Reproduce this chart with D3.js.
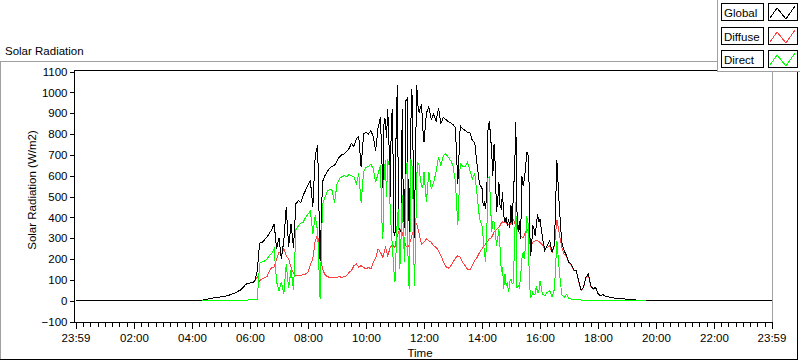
<!DOCTYPE html>
<html><head><meta charset="utf-8">
<script src="https://cdn.jsdelivr.net/npm/d3@7"></script>
<style>
html,body{margin:0;padding:0;background:#fff;overflow:hidden;}
svg{display:block;font-family:"Liberation Sans",Arial,sans-serif;}
</style></head><body>
<svg id="chart" width="800" height="361"></svg>
<script>
// ---------- data ----------
const chartTitle = "Solar Radiation";
const yAxisTitle = "Solar Radiation (W/m2)";
const xAxisTitle = "Time";
const seriesNames = ["Global", "Diffuse", "Direct"];
const seriesColors = ["#000000", "#ff4040", "#00ff00"];
const yTickValues = [-100, 0, 100, 200, 300, 400, 500, 600, 700, 800, 900, 1000, 1100];
const xTickMinutes = [-1, 120, 240, 360, 480, 600, 720, 840, 960, 1080, 1200, 1320, 1439];
const xTickLabels = ["23:59", "02:00", "04:00", "06:00", "08:00", "10:00", "12:00", "14:00", "16:00", "18:00", "20:00", "22:00", "23:59"];
// logger samples: every 5 minutes from 04:20 (260 min) to 19:40 (1180 min)
const sampleStartMin = 260;
const sampleStepMin = 5;
// Global is zero through the night
const globalNight = [[-1, 0], [255, 0], [1185, 0], [1439, 0]];

const globalW = [
  2,5,7,9,11,13,15,17,                                   // 04:20-04:55
  18,20,22,25,29,34,38,45,51,61,75,83,                   // 05
  85,87,93,144,276,280,292,304,324,341,370,250,          // 06
  300,200,290,449,260,370,255,465,480,470,505,530,       // 07
  555,575,450,700,745,190,570,600,620,635,645,650,       // 08
  670,690,700,705,715,730,755,740,775,790,640,800,       // 09
  810,800,815,790,720,830,880,540,870,920,500,920,       // 10
  310,1034,330,920,350,970,320,1018,300,1037,900,940,    // 11
  760,900,930,870,895,860,925,850,880,870,860,855,       // 12
  845,830,560,840,825,817,809,805,769,760,650,560,       // 13
  540,470,520,860,713,753,425,569,441,409,401,393,       // 14
  457,521,857,329,296,553,633,713,216,361,312,417,       // 15
  393,304,240,264,288,232,272,673,449,280,240,216,       // 16
  184,175,148,144,96,50,64,112,128,72,56,64,             // 17
  35,24,29,22,19,16,14,12,11,10,9,8,                     // 18
  7,6,5,4,3,2,1,0,0                                      // 19:00-19:40
];
const diffuseW = [
  2,5,7,9,11,13,15,17,
  18,20,22,25,29,34,38,45,51,61,75,83,
  85,87,93,117,95,105,110,115,140,160,162,200,
  235,221,250,216,200,160,131,120,120,120,125,128,
  136,173,200,288,317,216,152,125,115,112,112,112,
  112,115,112,115,120,136,144,168,176,160,168,160,
  152,160,152,184,204,248,232,208,256,216,256,272,
  256,312,345,329,280,256,272,312,345,369,321,272,
  280,296,288,280,264,256,240,216,188,165,155,165,
  184,204,216,208,184,168,152,149,168,192,208,232,
  248,264,280,296,304,329,341,353,373,377,373,364,
  369,389,361,337,312,300,329,341,264,280,287,288,
  280,268,248,256,264,232,264,388,320,256,224,210,
  182,170,146,142,94,48,62,110,124,70,55,62,
  34,24,28,22,19,16,14,12,11,10,9,8,
  7,6,5,4,3,2,1,0,0
];
const directW = [
  0,1,1,1,1,1,1,1,
  1,1,1,1,1,1,1,1,1,2,2,3,
  4,6,5,5,180,186,190,200,216,228,248,90,
  48,90,30,176,60,150,50,340,358,372,376,400,
  415,430,320,410,330,10,460,495,525,535,530,470,
  560,585,595,600,595,605,600,595,560,610,470,620,
  640,645,655,633,569,609,649,296,673,673,441,248,
  88,409,152,505,184,665,56,665,72,601,649,553,
  617,473,617,537,569,617,689,649,697,705,689,673,
  649,569,361,657,645,641,665,625,585,609,505,393,
  361,232,329,593,329,377,264,345,136,56,72,40,
  104,88,473,72,120,232,264,393,16,40,32,40,
  96,32,24,40,48,19,56,288,144,29,16,29,
  10,8,6,5,4,3,3,3,2,2,2,2,
  2,1,1,1,1,1,1,1,1,1,1,1,
  1,1,1,1,1,1,1,0,0
];
// extra (faster) samples during the gusty cloud periods, minutes since midnight
const extraTimes = [
  632.5,637.5,642.5,647.5,652.5,657.5,662.5,667.5,672.5,677.5,682.5,687.5,692.5,697.5,702.5,707.5,712.5,717.5,
  842.5,847.5,852.5,857.5,862.5,867.5,872.5,877.5,882.5,887.5,892.5,897.5,902.5,907.5,912.5,917.5,922.5,927.5,932.5,937.5,942.5,947.5,952.5,957.5
];
const extraGlobal = [
  700,873,780,761,873,330,860,360,340,400,960,480,825,700,700,937,930,830,
  457,441,825,801,600,650,480,450,520,377,361,350,361,620,420,380,600,580,710,560,248,345,360,377
];
const extraDiffuse = [
  220,230,240,235,262,262,290,330,340,300,265,262,290,330,360,345,295,276,
  256,272,288,300,316,335,347,362,378,375,368,366,380,375,350,325,305,315,336,300,270,284,288,284
];
const extraDirect = [
  400,600,500,665,330,150,250,440,300,300,600,90,681,473,250,660,580,540,
  300,184,590,480,380,330,300,250,160,130,88,90,80,290,60,60,200,200,400,150,20,30,70,40
];

// ---------- drawing ----------
const svg = d3.select("#chart");
const W = 800, H = 361;
svg.append("rect").attr("width", W).attr("height", H).attr("fill", "#fff");

const plot = {left: 74, right: 772, top: 70, bottom: 322};
const x = d3.scaleLinear().domain([-1, 1439]).range([75.5, 771.5]);
const y = d3.scaleLinear().domain([-100, 1100]).range([321.5, 71.5]);

const times = globalW.map((_, i) => sampleStartMin + i * sampleStepMin);
const merge = (vals, extra) => {
  const pts = vals.map((v, i) => [times[i], v]).concat(extra.map((v, i) => [extraTimes[i], v]));
  return pts.sort((a, b) => a[0] - b[0]);
};
const dayGlobal = merge(globalW, extraGlobal);
const globalPts = [globalNight[0], globalNight[1], ...dayGlobal, globalNight[2], globalNight[3]];
const diffusePts = merge(diffuseW, extraDiffuse);
const directPts = merge(directW, extraDirect);

// title
svg.append("text").attr("x", 5).attr("y", 55).attr("font-size", 11.5).attr("fill", "#000").text(chartTitle);

// outer frame
const frame = svg.append("g").attr("shape-rendering", "crispEdges");
frame.append("line").attr("x1", 0).attr("x2", 718).attr("y1", 61.5).attr("y2", 61.5).attr("stroke", "#a0a0a0");
frame.append("line").attr("x1", 0.5).attr("x2", 0.5).attr("y1", 61).attr("y2", 360).attr("stroke", "#a0a0a0");
frame.append("line").attr("x1", 0).attr("x2", 798).attr("y1", 359.5).attr("y2", 359.5).attr("stroke", "#000");
frame.append("line").attr("x1", 797.5).attr("x2", 797.5).attr("y1", 61).attr("y2", 360).attr("stroke", "#000");

// plot border
const pb = svg.append("g").attr("shape-rendering", "crispEdges");
pb.append("line").attr("x1", plot.left).attr("x2", plot.right + 1).attr("y1", plot.top + 0.5).attr("y2", plot.top + 0.5).attr("stroke", "#000");
pb.append("line").attr("x1", plot.right + 0.5).attr("x2", plot.right + 0.5).attr("y1", plot.top).attr("y2", plot.bottom).attr("stroke", "#a0a0a0");

// clip
svg.append("clipPath").attr("id", "clip").append("rect")
  .attr("x", plot.left + 1).attr("y", plot.top + 1)
  .attr("width", plot.right - plot.left - 1).attr("height", plot.bottom - plot.top - 1);

const line = d3.line().x(d => x(d[0])).y(d => y(d[1]));
const lines = svg.append("g").attr("clip-path", "url(#clip)").attr("fill", "none")
  .attr("stroke-width", 1).attr("shape-rendering", "crispEdges");
lines.append("path").datum(diffusePts).attr("d", line).attr("stroke", seriesColors[1]);
lines.append("path").datum(globalPts).attr("d", line).attr("stroke", seriesColors[0]);
lines.append("path").datum(directPts).attr("d", line).attr("stroke", seriesColors[2]);

// y axis
const yAxis = svg.append("g").attr("transform", `translate(${plot.left + 0.5},0)`)
  .call(d3.axisLeft(y).tickValues(yTickValues).tickSize(5).tickPadding(2).tickSizeOuter(0).tickFormat(d3.format("d")));
yAxis.select(".domain").remove();
yAxis.append("line").attr("y1", plot.top).attr("y2", plot.bottom + 1).attr("stroke", "#000").attr("shape-rendering", "crispEdges");
yAxis.selectAll(".tick line").attr("stroke", "#000").attr("shape-rendering", "crispEdges");
yAxis.selectAll("text").attr("font-size", 11.5).attr("fill", "#000").attr("font-family", '"Liberation Sans",Arial,sans-serif');

// x axis
const minorTicks = d3.range(15, 1440, 15).filter(m => m % 120 !== 0);
const xMinor = svg.append("g").attr("transform", `translate(0,${plot.bottom + 0.5})`)
  .call(d3.axisBottom(x).tickValues(minorTicks).tickSize(4).tickFormat(""));
xMinor.select(".domain").remove();
xMinor.selectAll(".tick line").attr("stroke", "#000").attr("shape-rendering", "crispEdges");
const xAxis = svg.append("g").attr("transform", `translate(0,${plot.bottom + 0.5})`)
  .call(d3.axisBottom(x).tickValues(xTickMinutes).tickSize(6).tickPadding(5)
    .tickFormat((d, i) => xTickLabels[i]));
xAxis.select(".domain").remove();
xAxis.append("line").attr("x1", plot.left).attr("x2", plot.right + 1).attr("stroke", "#000").attr("shape-rendering", "crispEdges");
xAxis.selectAll(".tick line").attr("stroke", "#000").attr("shape-rendering", "crispEdges");
xAxis.selectAll("text").attr("font-size", 11.5).attr("fill", "#000").attr("font-family", '"Liberation Sans",Arial,sans-serif');

// axis titles
svg.append("text").attr("transform", "translate(36,190) rotate(-90)").attr("text-anchor", "middle")
  .attr("font-size", 11.5).attr("fill", "#000").text(yAxisTitle);
svg.append("text").attr("x", 420).attr("y", 357).attr("text-anchor", "middle")
  .attr("font-size", 11.5).attr("fill", "#000").text(xAxisTitle);

// legend
const lg = svg.append("g");
lg.append("rect").attr("x", 717).attr("y", 0).attr("width", 83).attr("height", 72).attr("fill", "#fff");
lg.append("line").attr("x1", 717.5).attr("x2", 717.5).attr("y1", 0).attr("y2", 72).attr("stroke", "#a0a0a0").attr("shape-rendering", "crispEdges");
lg.append("line").attr("x1", 717).attr("x2", 800).attr("y1", 71.5).attr("y2", 71.5).attr("stroke", "#a0a0a0").attr("shape-rendering", "crispEdges");
seriesNames.forEach((name, i) => {
  const top = 3 + Math.round(i * 23.5);
  const row = lg.append("g").attr("transform", `translate(0,${top})`);
  row.append("rect").attr("x", 721.5).attr("y", 0.5).attr("width", 42).attr("height", 17)
    .attr("fill", "#fff").attr("stroke", "#000").attr("shape-rendering", "crispEdges");
  row.append("text").attr("x", 724).attr("y", 13.5).attr("font-size", 11.5).attr("fill", "#000").text(name);
  row.append("rect").attr("x", 768.5).attr("y", 0.5).attr("width", 29).attr("height", 17)
    .attr("fill", "#fff").attr("stroke", "#000").attr("shape-rendering", "crispEdges");
  row.append("polyline").attr("points", "770,15 777,5 786,16 795,3")
    .attr("fill", "none").attr("stroke", seriesColors[i]).attr("stroke-width", 1)
    .attr("shape-rendering", "crispEdges");
});
</script>
</body></html>
